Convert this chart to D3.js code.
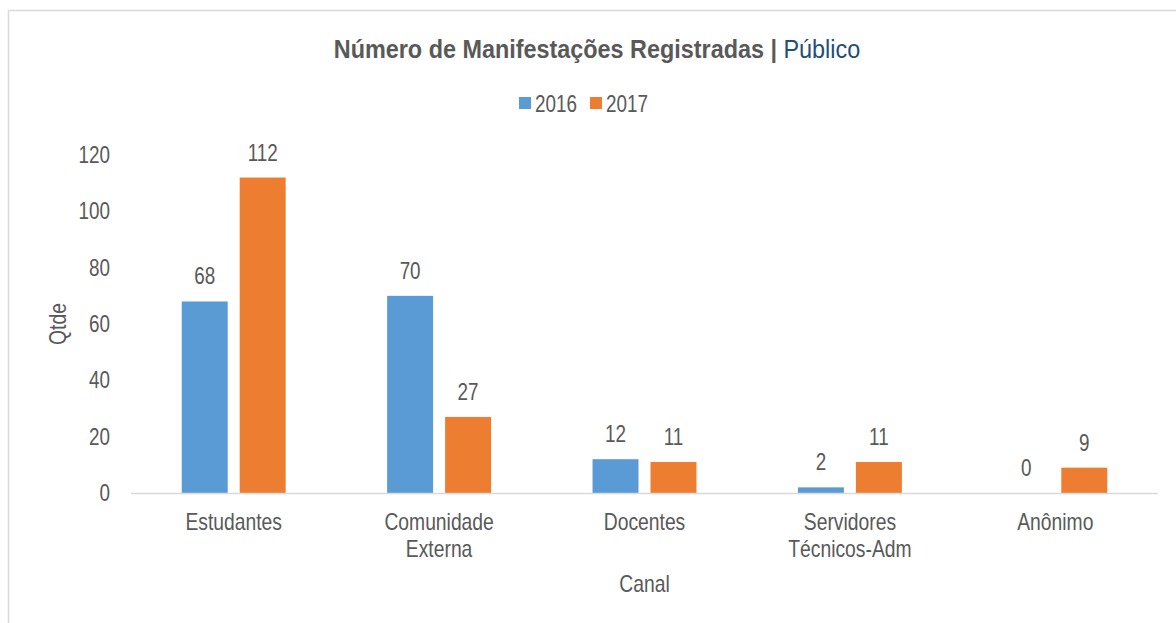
<!DOCTYPE html>
<html>
<head>
<meta charset="utf-8">
<script src="https://cdn.jsdelivr.net/npm/d3@7"></script>
<style>
  body { margin: 0; background: #fff; }
  svg text { font-family: "Liberation Sans Narrow", "Arial Narrow", "Liberation Sans", sans-serif; fill: #595959; }
</style>
</head>
<body>
<svg id="chart" width="1176" height="623"></svg>
<script>
(function() {

  'use strict';

  // data
  var categories = [['Estudantes'], ['Comunidade', 'Externa'], ['Docentes'], ['Servidores', 'Técnicos-Adm'], ['Anônimo']];
  var seriesNames = ['2016', '2017'];
  var values2016 = [68, 70, 12, 2, 0];
  var values2017 = [112, 27, 11, 11, 9];
  var yTicks = [0, 20, 40, 60, 80, 100, 120];
  var colours = ['#5b9bd5', '#ed7d31'];

  // no narrow face installed, so squeeze regular text horizontally
  var numSqueeze = 0.82;
  var wordSqueeze = 0.84;

  var svg = d3.select('#chart');
  var plot = { left: 131, right: 1158, top: 155, bottom: 493 };

  var at = function(x, y, s) {
    return 'translate(' + x + ',' + y + ') scale(' + s + ',1)';
  };

  // frame
  svg.append('path')
    .attr('d', 'M8.5,623V10.5H1176')
    .attr('fill', 'none')
    .attr('stroke', '#d9d9d9')
    .attr('stroke-width', 1.5);

  var keys = categories.map(function(c) { return c.join(' '); });

  var x0 = d3.scaleBand()
    .domain(keys)
    .range([plot.left, plot.right])
    .paddingInner(0.494)
    .paddingOuter(0.247);

  var x1 = d3.scaleBand()
    .domain(seriesNames)
    .range([0, x0.bandwidth()])
    .paddingInner(0.207);

  var y = d3.scaleLinear()
    .domain([0, 120])
    .range([plot.bottom, plot.top]);

  // y tick labels
  svg.append('g').selectAll('text')
    .data(yTicks)
    .enter().append('text')
    .attr('transform', function(d) { return at(110, y(d) + 8, numSqueeze); })
    .attr('text-anchor', 'end')
    .style('font-size', '23px')
    .text(function(d) { return d; });

  // bars
  var rows = keys.map(function(k, i) {
    return { key: k, vals: [values2016[i], values2017[i]] };
  });

  var groups = svg.append('g').selectAll('g')
    .data(rows)
    .enter().append('g')
    .attr('transform', function(d) { return 'translate(' + x0(d.key) + ',0)'; });

  groups.selectAll('rect')
    .data(function(d) { return d.vals.map(function(v, j) { return { s: seriesNames[j], v: v, j: j }; }); })
    .enter().append('rect')
    .attr('x', function(d) { return x1(d.s); })
    .attr('y', function(d) { return y(d.v); })
    .attr('width', x1.bandwidth())
    .attr('height', function(d) { return y(0) - y(d.v); })
    .attr('fill', function(d) { return colours[d.j]; });

  groups.selectAll('text')
    .data(function(d) { return d.vals.map(function(v, j) { return { s: seriesNames[j], v: v }; }); })
    .enter().append('text')
    .attr('transform', function(d) { return at(x1(d.s) + x1.bandwidth() / 2, y(d.v) - 17, numSqueeze); })
    .attr('text-anchor', 'middle')
    .style('font-size', '23px')
    .text(function(d) { return d.v; });

  // x axis line
  svg.append('line')
    .attr('x1', plot.left).attr('x2', plot.right)
    .attr('y1', plot.bottom + 0.5).attr('y2', plot.bottom + 0.5)
    .attr('stroke', '#d9d9d9')
    .attr('stroke-width', 1.5);

  // category labels
  var catLabels = svg.append('g').selectAll('text')
    .data(categories)
    .enter().append('text')
    .attr('text-anchor', 'middle')
    .style('font-size', '23px')
    .attr('transform', function(d, i) { return at(x0(keys[i]) + x0.bandwidth() / 2, 530, wordSqueeze); });

  catLabels.selectAll('tspan')
    .data(function(d) { return d; })
    .enter().append('tspan')
    .attr('x', 0)
    .attr('dy', function(d, i) { return i === 0 ? 0 : 27; })
    .text(function(d) { return d; });

  // axis titles
  svg.append('text')
    .attr('transform', at((plot.left + plot.right) / 2, 592, wordSqueeze))
    .attr('text-anchor', 'middle')
    .style('font-size', '23px')
    .text('Canal');

  svg.append('text')
    .attr('transform', 'translate(66,' + ((plot.top + plot.bottom) / 2) + ') rotate(-90) scale(' + wordSqueeze + ',1)')
    .attr('text-anchor', 'middle')
    .style('font-size', '23px')
    .text('Qtde');

  // title
  var title = svg.append('text')
    .attr('transform', at(597, 58, 0.9))
    .attr('text-anchor', 'middle')
    .style('font-size', '26px');
  title.append('tspan')
    .style('font-weight', 'bold')
    .text('Número de Manifestações Registradas | ');
  title.append('tspan')
    .style('fill', '#1f4e79')
    .text('Público');

  // legend
  var legend = svg.append('g').selectAll('g')
    .data(seriesNames)
    .enter().append('g')
    .attr('transform', function(d, i) { return 'translate(' + (519 + i * 71) + ',97)'; });
  legend.append('rect')
    .attr('width', 12).attr('height', 12)
    .attr('fill', function(d, i) { return colours[i]; });
  legend.append('text')
    .attr('transform', at(16, 15, numSqueeze))
    .style('font-size', '23px')
    .text(function(d) { return d; });

})();
</script>
</body>
</html>
